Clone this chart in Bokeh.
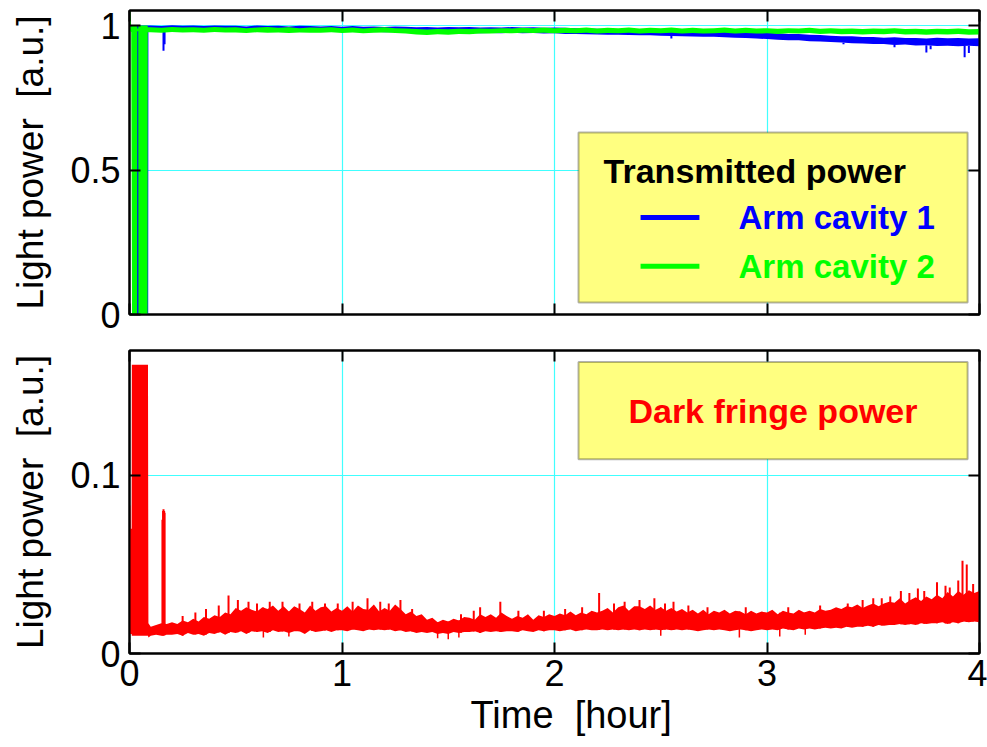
import numpy as np
from bokeh.plotting import figure
from bokeh.layouts import column
from bokeh.models import (LinearAxis, FixedTicker, NumeralTickFormatter,
                          BoxAnnotation, Label, Range1d, Title, CustomLabelingPolicy)
from bokeh.embed import file_html
from bokeh.resources import INLINE

FONT = "Liberation Sans"

# ---------------------------------------------------------------- data
x_ticks = [0, 1, 2, 3, 4]
top_y_ticks = [0, 0.5, 1]
bot_y_ticks = [0, 0.1]

# --- transmitted power, lock acquisition (first minutes)
green_t_early = [0.000, 0.004, 0.008, 0.012, 0.036, 0.037, 0.041, 0.042, 0.085, 0.086]
green_hi_early = [1.050, 1.050, 0.995, 1.000, 1.000, 0.990, 0.990, 1.000, 1.000, 0.994]
green_lo_early = [0.980, 0.980, 0.978, 0.000, 0.000, 0.980, 0.980, 0.000, 0.000, 0.977]

blue_t_early = [0.000, 0.012, 0.013, 0.088, 0.089]
blue_hi_early = [1.000, 1.000, 1.000, 1.000, 1.000]
blue_lo_early = [0.985, 0.985, -0.015, -0.015, 0.984]

# --- transmitted power, locked (sampled every 0.05 h from 0.10 h)
t_top = np.round(np.arange(0.10, 4.0001, 0.05), 3)

green_hi = [0.994, 0.992, 0.995, 0.993, 0.994, 0.992, 0.995, 0.993,
            0.994, 0.991, 0.993, 0.995, 0.992, 0.994, 0.991, 0.993,
            0.992, 0.994, 0.991, 0.993, 0.990, 0.992, 0.994, 0.991,
            0.990, 0.988, 0.986, 0.988, 0.987, 0.989, 0.988, 0.990,
            0.989, 0.991, 0.990, 0.992, 0.991, 0.993, 0.991, 0.992,
            0.991, 0.993, 0.990, 0.992, 0.991, 0.993, 0.990, 0.992,
            0.991, 0.993, 0.990, 0.992, 0.990, 0.991, 0.993, 0.990,
            0.992, 0.990, 0.991, 0.989, 0.991, 0.990, 0.992, 0.989,
            0.991, 0.989, 0.990, 0.988, 0.990, 0.989, 0.991, 0.988,
            0.989, 0.987, 0.989, 0.988, 0.990, 0.987,
            0.988]
green_lo = [0.977, 0.975, 0.978, 0.976, 0.977, 0.975, 0.978, 0.976,
            0.976, 0.974, 0.977, 0.975, 0.976, 0.974, 0.976, 0.975,
            0.975, 0.977, 0.974, 0.976, 0.973, 0.975, 0.976, 0.974,
            0.972, 0.969, 0.967, 0.970, 0.968, 0.971, 0.970, 0.972,
            0.972, 0.974, 0.973, 0.975, 0.974, 0.975, 0.973, 0.974,
            0.973, 0.975, 0.972, 0.974, 0.973, 0.975, 0.972, 0.974,
            0.973, 0.975, 0.972, 0.974, 0.972, 0.973, 0.975, 0.972,
            0.974, 0.972, 0.973, 0.971, 0.973, 0.972, 0.974, 0.971,
            0.972, 0.970, 0.971, 0.969, 0.971, 0.970, 0.972, 0.969,
            0.970, 0.968, 0.970, 0.969, 0.971, 0.968,
            0.969]

blue_hi = [1.000, 0.998, 1.001, 0.999, 1.000, 0.998, 1.000, 0.999,
           0.999, 0.997, 1.000, 0.998, 0.999, 0.997, 0.999, 0.998,
           0.997, 0.998, 0.996, 0.998, 0.996, 0.997, 0.995, 0.997,
           0.996, 0.994, 0.995, 0.993, 0.995, 0.994, 0.995, 0.993,
           0.994, 0.993, 0.995, 0.993, 0.994, 0.992, 0.993, 0.992,
           0.991, 0.990, 0.989, 0.988, 0.988, 0.987, 0.986, 0.986,
           0.985, 0.984, 0.984, 0.983, 0.982, 0.982, 0.980, 0.979,
           0.978, 0.976, 0.975, 0.973, 0.971, 0.971, 0.968, 0.967,
           0.965, 0.963, 0.963, 0.960, 0.960, 0.958, 0.959, 0.957,
           0.957, 0.955, 0.958, 0.956, 0.957, 0.955,
           0.956]
blue_lo = [0.984, 0.982, 0.985, 0.983, 0.984, 0.982, 0.984, 0.983,
           0.983, 0.981, 0.983, 0.982, 0.983, 0.981, 0.982, 0.981,
           0.980, 0.981, 0.979, 0.980, 0.978, 0.979, 0.977, 0.978,
           0.977, 0.975, 0.976, 0.974, 0.975, 0.974, 0.975, 0.973,
           0.974, 0.973, 0.975, 0.973, 0.974, 0.972, 0.973, 0.971,
           0.971, 0.970, 0.969, 0.968, 0.968, 0.967, 0.966, 0.966,
           0.965, 0.964, 0.963, 0.962, 0.961, 0.961, 0.959, 0.958,
           0.957, 0.955, 0.953, 0.951, 0.949, 0.949, 0.946, 0.945,
           0.943, 0.941, 0.939, 0.938, 0.936, 0.936, 0.933, 0.934,
           0.931, 0.932, 0.929, 0.930, 0.928, 0.930,
           0.928]

# downward glitches of arm cavity 1
blue_dip_t = [0.160, 0.165, 2.550, 3.360, 3.600, 3.750, 3.770, 3.930, 3.950]
blue_dip_v = [0.913, 0.935, 0.955, 0.935, 0.925, 0.907, 0.918, 0.890, 0.905]

# --- dark fringe power, lock acquisition
red_t_early = [0.000, 0.004, 0.005, 0.010, 0.011, 0.087, 0.089, 0.100, 0.125, 0.150, 0.175]
red_hi_early = [0.083, 0.083, 0.070, 0.070, 0.162, 0.162, 0.017, 0.015, 0.016, 0.017, 0.0165]
red_lo_early = [0.011, 0.011, 0.011, 0.011, 0.010, 0.010, 0.009, 0.010, 0.0105, 0.010, 0.0105]

# --- dark fringe power, locked (sampled every 0.025 h from 0.2 h), in 1e-3 a.u.
t_bot = np.round(np.arange(0.200, 4.0001, 0.025), 3)

red_hi_milli = [17.5, 16.5, 18.5, 17.5, 19.5, 18, 20.5, 19.5,
                21.5, 20.5, 23, 22, 25.5, 24, 26, 24.5,
                23.5, 26, 25, 27, 24, 26.5, 23.5, 26.5,
                25, 23, 27, 24, 26, 26.5, 23.5, 25.5,
                24, 26.5, 23.5, 27, 25, 24.5, 27.5, 23.5,
                25.5, 24, 27.5, 25, 22, 23.5, 21, 22,
                19, 20, 17.5, 19, 18, 19.5, 18.5, 20.5,
                20, 19, 22, 20.5, 22, 20, 23, 21,
                19.5, 21, 20, 22, 19, 21.5, 20.5, 22,
                21, 22.5, 21.5, 23.5, 21.5, 23, 22, 24,
                23, 24, 25.5, 23, 26, 27, 24, 26.5,
                26.5, 25, 27, 24.5, 26, 24, 25.5, 23.5,
                25, 23, 24.5, 22.5, 24.5, 22, 24, 23,
                24.5, 22.5, 24, 23.5, 22, 24, 22.5, 23.5,
                23, 24.5, 22, 24, 23, 22.5, 24.5, 23,
                24, 23, 25, 24, 24.5, 26, 25, 26.5,
                26, 27.5, 25.5, 27, 28, 26.5, 28, 29,
                28.5, 31, 28, 30, 31.5, 29.5, 32, 30.5,
                33, 31, 34.5, 32, 35, 33, 35.5, 34,
                35]
red_lo_milli = [10.5, 11, 10, 11.5, 10.5, 11, 10, 11.5,
                11, 12, 10.5, 12, 11.5, 12.5, 11, 12.5,
                12, 12.5, 11.5, 13, 12, 12.5, 11.5, 12.5,
                12.5, 11, 13, 12, 12.5, 13, 12, 13,
                13, 12.5, 13.5, 13, 12.5, 13.5, 13, 13.5,
                13, 13.5, 12.5, 13, 12, 12.5, 11.5, 12,
                11.5, 12, 11, 11.5, 11, 12, 11.5, 12,
                12, 12.5, 11.5, 12.5, 12, 12.5, 12, 12.5,
                12.5, 12, 13, 12.5, 12, 13, 12.5, 13,
                13, 12.5, 13, 13.5, 12.5, 13, 13.5, 13,
                13, 13.5, 13, 13.5, 13, 13.5, 13, 13.5,
                13, 13.5, 13, 13.5, 13, 13.5, 13, 13.5,
                13, 13.5, 13, 12.5, 13, 13.5, 13, 13.5,
                13, 12.5, 13, 13.5, 13, 12.5, 13, 13.5,
                13, 13.5, 13, 14, 13.5, 13, 14, 13.5,
                14, 13.5, 14, 14.5, 14, 14.5, 14, 15,
                14.5, 15, 15, 15.5, 15, 16, 15.5, 16,
                16, 16.5, 16, 16.5, 16, 17, 16.5, 17,
                17, 17.5, 16.5, 17.5, 17, 18, 17.5, 18,
                17.5]

# narrow excursions of the dark port signal
red_spike_t = [0.155, 0.158, 0.160, 0.163, 0.165, 0.250, 0.310, 0.360, 0.420, 0.466,
               0.510, 0.560, 0.600, 0.660, 0.720, 0.800, 0.860, 0.920, 0.980, 1.050,
               1.120, 1.180, 1.220, 1.275, 1.330, 1.560, 1.620, 1.650, 1.745, 1.830,
               1.950, 2.050, 2.130, 2.210, 2.280, 2.330, 2.400, 2.470, 2.520, 2.560,
               2.630, 2.720, 2.900, 3.100, 3.250, 3.380, 3.450, 3.500, 3.540, 3.580,
               3.630, 3.670, 3.710, 3.740, 3.800, 3.840, 3.860, 3.900, 3.920, 3.940,
               3.970]
red_spike_v = [0.075, 0.080, 0.081, 0.080, 0.079, 0.021, 0.023, 0.025, 0.027, 0.0326,
               0.030, 0.029, 0.028, 0.029, 0.029, 0.028, 0.029, 0.028, 0.028, 0.029,
               0.031, 0.029, 0.028, 0.030, 0.025, 0.022, 0.024, 0.026, 0.029, 0.024,
               0.024, 0.025, 0.026, 0.034, 0.028, 0.029, 0.030, 0.031, 0.028, 0.029,
               0.027, 0.026, 0.026, 0.026, 0.027, 0.028, 0.030, 0.031, 0.031, 0.032,
               0.035, 0.034, 0.0365, 0.035, 0.040, 0.038, 0.037, 0.041, 0.052, 0.050,
               0.039]
red_dip_t = [0.630, 0.750, 1.450, 1.500, 1.550, 2.500, 2.870, 3.060, 3.180]
red_dip_v = [0.009, 0.0095, 0.0085, 0.008, 0.009, 0.010, 0.009, 0.0095, 0.0105]

# ---------------------------------------------------------------- series assembly
gt = np.concatenate([green_t_early, t_top])
g_hi = np.concatenate([green_hi_early, green_hi])
g_lo = np.concatenate([green_lo_early, green_lo])
bt = np.concatenate([blue_t_early, t_top])
b_hi = np.concatenate([blue_hi_early, blue_hi])
b_lo = np.concatenate([blue_lo_early, blue_lo])
rt = np.concatenate([red_t_early, t_bot])
r_hi = np.concatenate([red_hi_early, np.array(red_hi_milli) / 1000.0])
r_lo = np.concatenate([red_lo_early, np.array(red_lo_milli) / 1000.0])

BLUE, GREEN, RED = "#0000ff", "#00ff00", "#ff0000"
GRID = "#40ffff"
BOX = "#ffff80"

# tick marks only, no numbers (used on the mirrored frame sides)
NO_LABELS = """
for (const i of indices)
    indices.unset(i)
return indices
"""


def style_axis(ax, show_labels):
    ax.axis_line_color = "black"
    ax.axis_line_width = 2
    ax.major_tick_in = 11
    ax.major_tick_out = 0
    ax.major_tick_line_color = "black"
    ax.major_tick_line_width = 2
    ax.minor_tick_line_color = None
    if show_labels:
        ax.major_label_text_font = FONT
        ax.major_label_text_font_size = "36px"
        ax.major_label_text_color = "black"
    else:
        ax.major_label_policy = CustomLabelingPolicy(code=NO_LABELS)
        ax.major_label_text_font_size = "0px"
        ax.major_label_standoff = 0


def make_panel(height, y_end, yticks, border_bottom, show_x_labels):
    p = figure(width=987, height=height,
               x_range=Range1d(0, 4), y_range=Range1d(0, y_end),
               output_backend="svg", toolbar_location=None,
               min_border_left=129, min_border_right=8,
               min_border_top=10, min_border_bottom=border_bottom)
    p.outline_line_color = "black"
    p.outline_line_width = 2
    p.background_fill_color = "white"
    p.border_fill_color = "white"

    xa = p.below[0]
    ya = p.left[0]
    xa.ticker = FixedTicker(ticks=x_ticks)
    xa.formatter = NumeralTickFormatter(format="0")
    ya.ticker = FixedTicker(ticks=yticks)
    ya.formatter = NumeralTickFormatter(format="0.[0]")
    style_axis(xa, show_x_labels)
    style_axis(ya, True)
    ya.major_label_standoff = 9
    if show_x_labels:
        xa.major_label_standoff = 6
    ya.axis_label = "Light power\u00a0 [a.u.]"
    ya.axis_label_text_font = FONT
    ya.axis_label_text_font_size = "37px"
    ya.axis_label_text_font_style = "normal"
    ya.axis_label_text_color = "black"
    ya.axis_label_standoff = 16

    top_ax = LinearAxis(ticker=FixedTicker(ticks=x_ticks))
    right_ax = LinearAxis(ticker=FixedTicker(ticks=yticks))
    style_axis(top_ax, False)
    style_axis(right_ax, False)
    p.add_layout(top_ax, "above")
    p.add_layout(right_ax, "right")

    p.xgrid.ticker = FixedTicker(ticks=x_ticks)
    p.ygrid.ticker = FixedTicker(ticks=yticks)
    p.xgrid.grid_line_color = GRID
    p.ygrid.grid_line_color = GRID
    p.xgrid.grid_line_width = 1.2
    p.ygrid.grid_line_width = 1
    return p


# ---------------------------------------------------------------- top panel
p1 = make_panel(340, 1.052, top_y_ticks, 26, False)
p1.varea(x=bt, y1=b_lo, y2=b_hi, fill_color=BLUE)
p1.segment(x0=blue_dip_t, y0=np.interp(blue_dip_t, t_top, blue_lo),
           x1=blue_dip_t, y1=blue_dip_v, line_color=BLUE, line_width=2)
p1.varea(x=gt, y1=g_lo, y2=g_hi, fill_color=GREEN)

p1.add_layout(BoxAnnotation(left=2.113, right=3.944, bottom=0.0415, top=0.630,
                            fill_color=BOX, fill_alpha=1.0,
                            line_color="black", line_width=2))
p1.add_layout(Label(x=2.231, y=0.498, text="Transmitted power",
                    text_font=FONT, text_font_size="34px", text_font_style="bold",
                    text_color="black", text_align="left", text_baseline="middle"))
p1.add_layout(Label(x=2.866, y=0.337, text="Arm cavity 1",
                    text_font=FONT, text_font_size="33px", text_font_style="bold",
                    text_color=BLUE, text_align="left", text_baseline="middle"))
p1.add_layout(Label(x=2.866, y=0.1675, text="Arm cavity 2",
                    text_font=FONT, text_font_size="33px", text_font_style="bold",
                    text_color=GREEN, text_align="left", text_baseline="middle"))
p1.segment(x0=[2.405, 2.405], y0=[0.336, 0.167], x1=[2.682, 2.682], y1=[0.336, 0.167],
           line_color=[BLUE, GREEN], line_width=5, level="overlay")

# ---------------------------------------------------------------- bottom panel
p2 = make_panel(407, 0.170, bot_y_ticks, 94, True)
p2.varea(x=rt, y1=r_lo, y2=r_hi, fill_color=RED)
p2.segment(x0=red_spike_t, y0=np.interp(red_spike_t, rt, r_lo),
           x1=red_spike_t, y1=red_spike_v, line_color=RED, line_width=2)
p2.segment(x0=red_dip_t, y0=np.interp(red_dip_t, rt, r_hi),
           x1=red_dip_t, y1=red_dip_v, line_color=RED, line_width=1.5)

p2.add_layout(BoxAnnotation(left=2.113, right=3.944, bottom=0.109, top=0.1635,
                            fill_color=BOX, fill_alpha=1.0,
                            line_color="black", line_width=2))
p2.add_layout(Label(x=3.028, y=0.1358, text="Dark fringe power",
                    text_font=FONT, text_font_size="34px", text_font_style="bold",
                    text_color=RED, text_align="center", text_baseline="middle"))

# x-axis caption, left-aligned a fixed distance into the frame
p2.add_layout(Title(text="Time\u00a0 [hour]", align="left", offset=341, standoff=7,
                    text_font=FONT, text_font_size="38px", text_font_style="normal",
                    text_color="black"), "below")

layout = column(p1, p2, spacing=0)
open("out.html", "w").write(file_html(layout, INLINE))
